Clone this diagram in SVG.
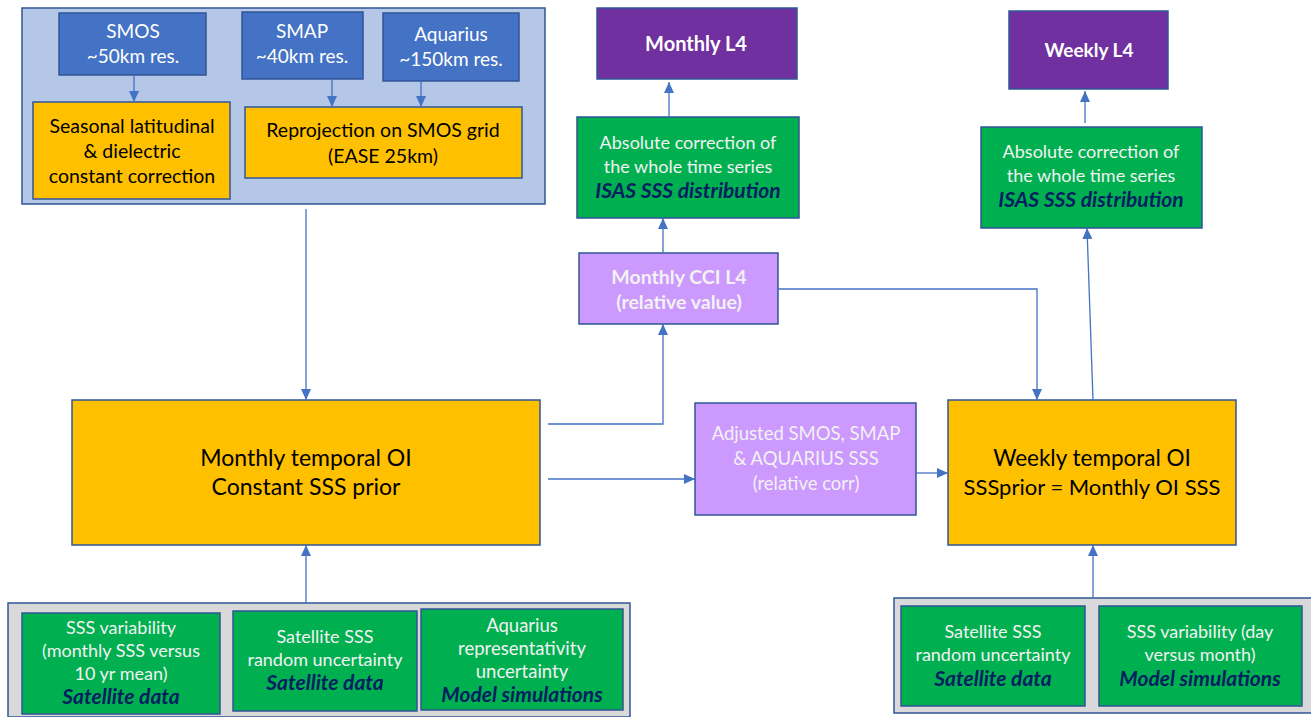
<svg xmlns="http://www.w3.org/2000/svg" width="1311" height="717" viewBox="0 0 1311 717">
<defs>
<marker id="ah" markerUnits="userSpaceOnUse" markerWidth="12" markerHeight="11" refX="11" refY="5" orient="auto">
<path d="M0,0 L11,5 L0,10 z" fill="#4472C4"/>
</marker>
</defs>
<style>
text{font-family:Lato,"Liberation Sans",sans-serif;text-anchor:middle}
.box{stroke:#2F5597;stroke-width:1.5}
.cont{fill:#B4C7E7}
.gray{fill:#D9D9D9}
.blue{fill:#4472C4}
.org{fill:#FFC000}
.grn{fill:#00B050}
.dpur{fill:#7030A0}
.lpur{fill:#CC99FF}
.wt{fill:#FFFFFF}
.lt{fill:#F2F2F2}
.bk{fill:#000000}
.nv{fill:#002060;font-weight:bold;font-style:italic;font-size:21px}
.b{font-weight:bold}
.conn path{fill:none;stroke:#4472C4;stroke-width:1.3}
</style>
<rect width="1311" height="717" fill="#FFFFFF"/>

<g id="top-container">
<rect class="box cont" x="22" y="8" width="523" height="196"/>
</g>
<g id="smos">
<rect class="box blue" x="59" y="13" width="147" height="62"/>
<text class="wt" x="133" y="38" font-size="19">SMOS</text>
<text class="wt" x="133" y="63" font-size="19">~50km res.</text>
</g>
<g id="smap">
<rect class="box blue" x="242" y="12" width="121" height="67"/>
<text class="wt" x="302" y="38" font-size="19">SMAP</text>
<text class="wt" x="302" y="63" font-size="19">~40km res.</text>
</g>
<g id="aquarius">
<rect class="box blue" x="383" y="13" width="136" height="68"/>
<text class="wt" x="451" y="41" font-size="19">Aquarius</text>
<text class="wt" x="451" y="66" font-size="19">~150km res.</text>
</g>
<g id="seasonal">
<rect class="box org" x="33" y="102" width="197" height="97"/>
<text class="bk" x="132" y="133" font-size="19.5">Seasonal latitudinal</text>
<text class="bk" x="132" y="158" font-size="19.5">&amp; dielectric</text>
<text class="bk" x="132" y="183" font-size="19.5">constant correction</text>
</g>
<g id="reprojection">
<rect class="box org" x="245" y="107" width="277" height="71"/>
<text class="bk" x="383" y="137" font-size="19.5">Reprojection on SMOS grid</text>
<text class="bk" x="383" y="163" font-size="19.5">(EASE 25km)</text>
</g>

<g id="monthly-oi">
<rect class="box org" x="72" y="400" width="468" height="145"/>
<text class="bk" x="306" y="466" font-size="23">Monthly temporal OI</text>
<text class="bk" x="306" y="495" font-size="23">Constant SSS prior</text>
</g>

<g id="bottom-left-container">
<rect class="box gray" x="8" y="603" width="622" height="114"/>
</g>
<g id="sss-variability-monthly">
<rect class="box grn" x="22" y="613" width="198" height="101"/>
<text class="lt" x="121" y="634" font-size="18">SSS variability</text>
<text class="lt" x="121" y="657" font-size="18">(monthly SSS versus</text>
<text class="lt" x="121" y="680" font-size="18">10 yr mean)</text>
<text class="nv" x="121" y="704">Satellite data</text>
</g>
<g id="satellite-sss-monthly">
<rect class="box grn" x="233" y="611" width="184" height="100"/>
<text class="lt" x="325" y="643" font-size="18">Satellite SSS</text>
<text class="lt" x="325" y="666" font-size="18">random uncertainty</text>
<text class="nv" x="325" y="690">Satellite data</text>
</g>
<g id="aquarius-representativity">
<rect class="box grn" x="421" y="609" width="202" height="101"/>
<text class="lt" x="522" y="632" font-size="18.5">Aquarius</text>
<text class="lt" x="522" y="655" font-size="18.5">representativity</text>
<text class="lt" x="522" y="678" font-size="18.5">uncertainty</text>
<text class="nv" x="522" y="702">Model simulations</text>
</g>

<g id="monthly-l4">
<rect class="box dpur" x="597" y="8" width="200" height="71"/>
<text class="wt b" x="696" y="51" font-size="20">Monthly L4</text>
</g>
<g id="absolute-correction-monthly">
<rect class="box grn" x="577" y="117" width="222" height="101"/>
<text class="lt" x="688" y="149" font-size="18">Absolute correction of</text>
<text class="lt" x="688" y="173" font-size="18">the whole time series</text>
<text class="nv" x="688" y="198" font-size="20.5">ISAS SSS distribution</text>
</g>
<g id="monthly-cci-l4">
<rect class="box lpur" x="579" y="253" width="199" height="71"/>
<text class="lt b" x="679" y="284" font-size="19.5">Monthly CCI L4</text>
<text class="lt b" x="679" y="309" font-size="19.5">(relative value)</text>
</g>
<g id="adjusted">
<rect class="box lpur" x="695" y="403" width="221" height="112"/>
<text class="lt" x="806" y="440" font-size="18.5">Adjusted SMOS, SMAP</text>
<text class="lt" x="806" y="465" font-size="18.5">&amp; AQUARIUS SSS</text>
<text class="lt" x="806" y="490" font-size="18.5">(relative corr)</text>
</g>

<g id="weekly-l4">
<rect class="box dpur" x="1009" y="11" width="159" height="78"/>
<text class="wt b" x="1089" y="57" font-size="19">Weekly L4</text>
</g>
<g id="absolute-correction-weekly">
<rect class="box grn" x="981" y="127" width="221" height="101"/>
<text class="lt" x="1091" y="158" font-size="18">Absolute correction of</text>
<text class="lt" x="1091" y="182" font-size="18">the whole time series</text>
<text class="nv" x="1091" y="207" font-size="20.5">ISAS SSS distribution</text>
</g>
<g id="weekly-oi">
<rect class="box org" x="948" y="400" width="288" height="145"/>
<text class="bk" x="1092" y="466" font-size="22.5">Weekly temporal OI</text>
<text class="bk" x="1092" y="495" font-size="22">SSSprior = Monthly OI SSS</text>
</g>

<g id="bottom-right-container">
<rect class="box gray" x="894" y="598" width="430" height="115"/>
</g>
<g id="satellite-sss-weekly">
<rect class="box grn" x="901" y="606" width="184" height="100"/>
<text class="lt" x="993" y="638" font-size="18">Satellite SSS</text>
<text class="lt" x="993" y="661" font-size="18">random uncertainty</text>
<text class="nv" x="993" y="686">Satellite data</text>
</g>
<g id="sss-variability-weekly">
<rect class="box grn" x="1099" y="606" width="203" height="100"/>
<text class="lt" x="1200" y="638" font-size="18">SSS variability (day</text>
<text class="lt" x="1200" y="661" font-size="18">versus month)</text>
<text class="nv" x="1200" y="686">Model simulations</text>
</g>

<g id="connectors" class="conn">
<path d="M134,75 V102" marker-end="url(#ah)"/>
<path d="M332,79 V107" marker-end="url(#ah)"/>
<path d="M421,81 V107" marker-end="url(#ah)"/>
<path d="M306,209 V400" marker-end="url(#ah)"/>
<path d="M306,603 V545" marker-end="url(#ah)"/>
<path d="M548,424 H663 V324" marker-end="url(#ah)"/>
<path d="M548,479 H695" marker-end="url(#ah)"/>
<path d="M663,253 V218" marker-end="url(#ah)"/>
<path d="M669,117 V82" marker-end="url(#ah)"/>
<path d="M778,289 H1037 V400" marker-end="url(#ah)"/>
<path d="M916,473 H948" marker-end="url(#ah)"/>
<path d="M1093,400 L1087,228" marker-end="url(#ah)"/>
<path d="M1085,123 V91" marker-end="url(#ah)"/>
<path d="M1093,598 V545" marker-end="url(#ah)"/>
</g>
</svg>
